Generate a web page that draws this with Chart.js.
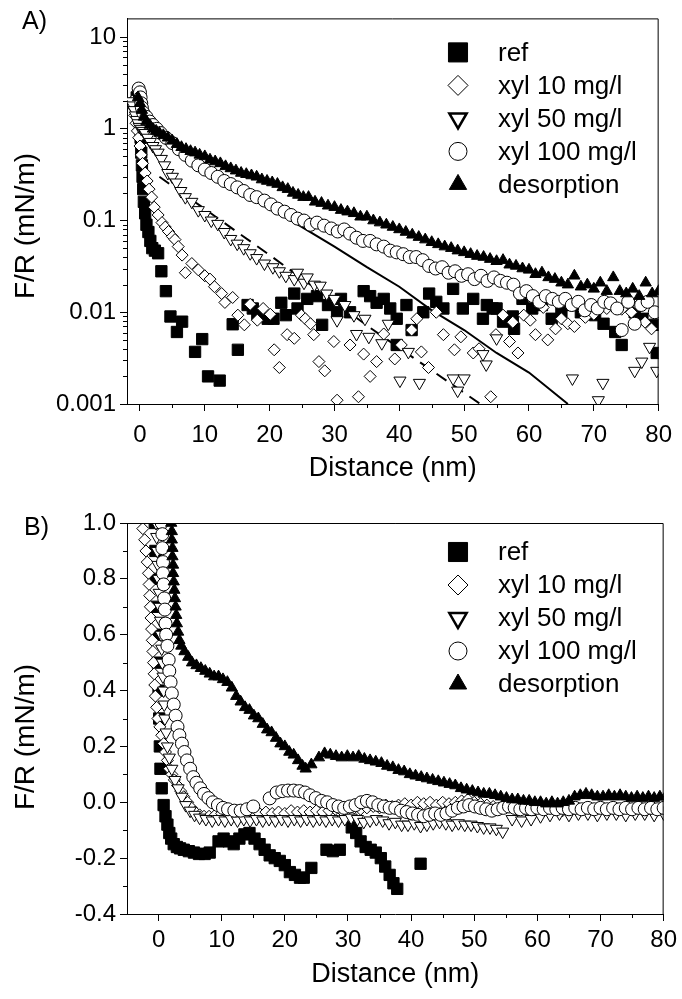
<!DOCTYPE html>
<html>
<head>
<meta charset="utf-8">
<script src="https://cdn.jsdelivr.net/npm/chart.js@4.4.0/dist/chart.umd.min.js"></script>
<style>
  body { margin: 0; background: #fff; }
  #wrap { position: relative; width: 682px; height: 999px; }
  canvas { position: absolute; left: 0; }
  #top-chart { top: 0; }
  #bottom-chart { top: 495px; }
  .panel { position: absolute; font: 25px "Liberation Sans", Arial, sans-serif; color: #000; }
</style>
</head>
<body>
<div id="wrap">
  <canvas id="top-chart" width="682" height="495"></canvas>
  <canvas id="bottom-chart" width="682" height="504"></canvas>
  <div class="panel" style="left:22px; top:6px;">A)</div>
  <div class="panel" style="left:24px; top:512px;">B)</div>
</div>
<script>
const seriesNames = ['ref', 'xyl 10 mg/l', 'xyl 50 mg/l', 'xyl 100 mg/l', 'desorption'];

// panel A (log scale), [distance nm, F/R mN/m]
const refA = [[-0.5,2.2],[-0.3,1.6],[0,1.2],[0.1,0.8],[0.2,0.55],[0.3,0.4],[0.4,0.3],[0.5,0.22],[0.6,0.16],[0.8,0.12],[1.0,0.09],[1.3,0.075],[1.6,0.06],[1.9,0.05],[2.3,0.047],[2.8,0.044],[3.3,0.028],[4.0,0.017],[4.7,0.009],[5.7,0.0061],[6.5,0.0079],[8.5,0.0037],[9.6,0.0051],[10.5,0.002],[12.3,0.0018],[14.3,0.0074],[15.1,0.0039],[16.6,0.012],[17.4,0.011],[18.1,0.0095],[19.7,0.0085],[20.6,0.0085],[21.8,0.0127],[22.5,0.0093],[23.8,0.016],[24.3,0.011],[25.8,0.014],[27.3,0.015],[28.1,0.0073],[29,0.012],[30.4,0.01],[31,0.014],[32.4,0.01],[34.5,0.017],[35.5,0.015],[36.5,0.0127],[37.6,0.014],[38.6,0.011],[39.6,0.0085],[39.6,0.0044],[41.1,0.012],[41.9,0.0064],[43.7,0.01],[44.6,0.016],[45.7,0.013],[46.8,0.011],[48.3,0.018],[49.8,0.011],[51.4,0.014],[52.9,0.0085],[53.5,0.012],[54.4,0.011],[55,0.011],[56,0.0079],[57.5,0.009],[57.7,0.0066],[59,0.014],[60.5,0.011],[62,0.012],[63.5,0.0085],[65,0.01],[66.5,0.012],[68,0.01],[70.2,0.0093],[71.5,0.0075],[73.3,0.0061],[74.3,0.0044],[76.3,0.01],[77.5,0.0085],[79.4,0.0073],[79.7,0.0036]];
const xyl10A = [[-1.2,2.0],[-1.0,1.7],[-0.8,1.4],[-0.6,1.15],[-0.4,0.95],[-0.2,0.8],[0,0.65],[0.2,0.52],[0.4,0.42],[0.8,0.33],[1.1,0.27],[1.4,0.22],[1.8,0.18],[2.2,0.14],[2.8,0.115],[3.4,0.095],[3.9,0.085],[4.4,0.076],[5,0.067],[5.4,0.062],[5.9,0.052],[6.5,0.042],[7.0,0.027],[8,0.034],[9,0.029],[10,0.025],[10.8,0.023],[11.5,0.019],[12.6,0.016],[13.1,0.0128],[14.3,0.0145],[15.1,0.0093],[16.1,0.0073],[17,0.0122],[18.1,0.0082],[19,0.011],[20.1,0.0095],[20.7,0.0039],[21.5,0.0025],[22.7,0.0057],[23.8,0.0052],[24.9,0.0093],[25.5,0.0085],[26.3,0.0075],[26.8,0.0057],[27.6,0.0029],[28.5,0.0023],[29.9,0.0048],[30.4,0.0011],[32.4,0.0044],[33.7,0.0012],[34.5,0.0035],[35.5,0.002],[36.5,0.0029],[37.6,0.0058],[39.3,0.0031],[40.3,0.0044],[41.9,0.0064],[42.7,0.0085],[43.4,0.0037],[44.5,0.0025],[45.7,0.01],[46.8,0.0057],[48.5,0.0039],[49.5,0.0054],[51.4,0.0036],[52.3,0.004],[54.1,0.0012],[54.9,0.0057],[56,0.0093],[57,0.0048],[57.5,0.0078],[58.3,0.0036],[59.2,0.0093],[60.2,0.0082],[61,0.0057],[62.2,0.0113],[62.9,0.005],[64.1,0.0066],[65,0.0085],[66,0.0075],[67,0.007],[68.7,0.0088],[70,0.0095],[72,0.011],[74.3,0.0108],[75.8,0.01],[76.8,0.0119],[77.9,0.0078],[78.9,0.0066]];
const xyl50A = [[-1.3,2.0],[-1.1,1.8],[-0.9,1.6],[-0.7,1.4],[-0.5,1.25],[-0.3,1.15],[-0.1,1.05],[0.2,1.0],[0.5,0.95],[0.8,0.9],[1.2,0.8],[1.6,0.72],[2.0,0.65],[2.4,0.6],[2.8,0.55],[3.3,0.47],[3.8,0.4],[4.3,0.33],[5,0.3],[5.6,0.26],[6.3,0.21],[7,0.18],[8,0.16],[9,0.13],[10,0.115],[11,0.1],[12,0.092],[13,0.075],[14,0.063],[15,0.056],[16,0.05],[17,0.044],[18,0.039],[19.2,0.034],[20.5,0.031],[21.5,0.028],[22.5,0.025],[23.8,0.023],[24.3,0.027],[25.3,0.021],[25.8,0.024],[26.9,0.02],[27.8,0.0195],[28.8,0.016],[30,0.014],[30.4,0.0082],[31.6,0.012],[33,0.0093],[33.4,0.0058],[34.7,0.0085],[35.3,0.0054],[37.3,0.0046],[38.3,0.0075],[40.1,0.0018],[41.4,0.0037],[43.1,0.0017],[48.3,0.0019],[49,0.0014],[50,0.0019],[52.9,0.0035],[53.4,0.0027],[55,0.0052],[66.7,0.0019],[70.7,0.0011],[71.4,0.0017],[76.3,0.0023],[77.4,0.0029],[78.6,0.0042],[79.7,0.0023]];
const xyl100A = [[-0.2,2.75],[0,2.5],[0.1,2.2],[0.2,1.9],[0.3,1.7],[0.5,1.5],[1,1.35],[1.5,1.2],[2,1.1],[2.6,1.0],[3.2,0.9],[4,0.8],[5,0.7],[6,0.6],[7,0.52],[8,0.45],[9,0.4],[10,0.36],[11,0.33],[12,0.3],[13,0.27],[14,0.25],[15,0.23],[16,0.21],[17,0.19],[18,0.18],[19.2,0.165],[20.2,0.15],[21.2,0.135],[22.3,0.125],[23.3,0.115],[24.3,0.105],[25.3,0.1],[26.3,0.09],[27.3,0.095],[28.4,0.088],[29.5,0.082],[30.5,0.076],[31.5,0.08],[32.4,0.072],[33.4,0.065],[34.4,0.06],[35.5,0.06],[36.5,0.055],[37.6,0.052],[38.6,0.047],[39.6,0.045],[40.6,0.043],[41.6,0.04],[42.6,0.04],[43.6,0.037],[44.6,0.032],[45.6,0.03],[46.6,0.031],[47.6,0.027],[48.6,0.028],[49.6,0.025],[50.6,0.026],[51.6,0.023],[52.6,0.025],[53.6,0.022],[54.6,0.024],[55.6,0.022],[56.6,0.021],[57.6,0.02],[58.6,0.016],[59.6,0.017],[60.6,0.015],[61.6,0.013],[62.6,0.015],[63.6,0.014],[64.6,0.013],[65.6,0.014],[66.6,0.012],[67.6,0.013],[68.6,0.0105],[69.6,0.012],[70.6,0.011],[71.6,0.013],[72.6,0.0125],[73.6,0.011],[74.3,0.0064],[75.3,0.013],[76.3,0.0075],[77.3,0.012],[78.3,0.013],[79.4,0.01]];
const desorpA = [[-0.3,2.2],[0,1.9],[0.3,1.6],[0.6,1.35],[1,1.2],[1.5,1.1],[2,1.0],[2.5,0.95],[3,0.9],[3.6,0.85],[4.3,0.8],[5,0.74],[5.7,0.68],[6.4,0.63],[7.1,0.6],[7.8,0.57],[8.5,0.55],[9.2,0.52],[10,0.5],[10.8,0.46],[11.6,0.44],[12.4,0.42],[13.2,0.39],[14,0.37],[14.8,0.35],[15.6,0.33],[16.4,0.32],[17.2,0.31],[18,0.3],[18.8,0.28],[19.6,0.27],[20.4,0.26],[21.2,0.25],[22,0.23],[22.8,0.22],[23.6,0.2],[24.4,0.19],[25.2,0.18],[26,0.18],[27,0.16],[28,0.155],[29,0.145],[30,0.14],[31,0.13],[32,0.125],[33,0.12],[34,0.11],[35,0.11],[36,0.1],[37,0.095],[38,0.09],[39,0.085],[40,0.08],[41,0.075],[42,0.07],[43,0.066],[44,0.062],[45,0.058],[46,0.055],[47,0.052],[48,0.05],[49,0.047],[50,0.045],[51,0.043],[52,0.041],[53,0.04],[54,0.038],[55,0.036],[56,0.037],[57,0.033],[58,0.032],[59,0.03],[60,0.029],[61,0.026],[62,0.027],[63,0.024],[64,0.023],[65,0.021],[66,0.02],[67,0.025],[68,0.019],[69,0.02],[70,0.018],[71,0.021],[72,0.017],[73,0.024],[74,0.017],[75,0.016],[76,0.018],[77,0.015],[78,0.021],[79,0.016],[80,0.017]];
const fitSolidA = [[0,1.3],[4,0.68],[10,0.4],[15,0.25],[20,0.14],[25,0.085],[30,0.052],[35,0.031],[40,0.019],[45,0.0105],[50,0.0064],[55,0.0036],[60,0.0022],[66,0.001]];
const fitDashA = [[3,0.3],[20,0.042],[36,0.0064],[52.5,0.001]];

// panel B (linear scale)
const refB = [[-0.6,1.0],[-0.5,0.9],[-0.4,0.8],[-0.3,0.7],[-0.2,0.6],[-0.1,0.5],[0,0.4],[0.1,0.3],[0.2,0.2],[0.3,0.12],[0.5,0.05],[0.8,-0.01],[1.1,-0.05],[1.4,-0.08],[1.7,-0.11],[2.0,-0.13],[2.4,-0.15],[2.9,-0.16],[3.4,-0.165],[4,-0.17],[4.8,-0.175],[5.6,-0.18],[6.4,-0.185],[7.3,-0.185],[8.1,-0.18],[9.5,-0.14],[10.3,-0.13],[11.1,-0.14],[11.9,-0.15],[12.8,-0.13],[13.6,-0.115],[14.4,-0.11],[15.2,-0.13],[16,-0.15],[16.8,-0.17],[17.6,-0.19],[18.4,-0.2],[19.2,-0.21],[20,-0.225],[20.8,-0.25],[21.6,-0.26],[22.4,-0.27],[23,-0.27],[24.2,-0.235],[26.6,-0.17],[27.6,-0.175],[28.7,-0.17],[30.6,-0.09],[31.3,-0.11],[32,-0.14],[32.8,-0.16],[33.6,-0.17],[34.4,-0.18],[35.2,-0.2],[35.9,-0.23],[36.6,-0.26],[37.2,-0.29],[37.8,-0.31],[41.5,-0.22]];
const xyl10B = [[-2.5,0.98],[-2.2,0.94],[-2,0.9],[-1.8,0.86],[-1.6,0.82],[-1.5,0.78],[-1.4,0.74],[-1.3,0.7],[-1.2,0.66],[-1.1,0.62],[-1.0,0.58],[-0.9,0.54],[-0.8,0.5],[-0.7,0.46],[-0.6,0.42],[-0.5,0.38],[-0.3,0.34],[-0.1,0.3],[0.2,0.27],[0.5,0.24],[0.8,0.21],[1.1,0.18],[1.4,0.15],[1.7,0.12],[2.1,0.1],[2.5,0.08],[3,0.06],[3.5,0.04],[4,0.02],[4.6,0.0],[5.2,-0.02],[5.8,-0.035],[6.5,-0.045],[7.2,-0.05],[8,-0.05],[9,-0.045],[10,-0.04],[11,-0.045],[12,-0.04],[13,-0.045],[14,-0.04],[15,-0.035],[16,-0.04],[17,-0.035],[18,-0.04],[19,-0.035],[20,-0.04],[21,-0.03],[22,-0.035],[23,-0.03],[24,-0.035],[25,-0.03],[26,-0.035],[27,-0.03],[28,-0.025],[29,-0.03],[30,-0.025],[31,-0.02],[32,-0.025],[33,-0.02],[34,-0.015],[35,-0.02],[36,-0.01],[37,-0.015],[38,-0.01],[39,-0.005],[40,-0.01],[41,0],[42,-0.005],[43,0.0],[44,-0.01],[45,0],[46,-0.005],[47,0],[48,0.005],[49,0.01],[50,0],[51,-0.005],[52,-0.01],[53,-0.015],[54,-0.02],[55,-0.01],[56,-0.015],[57,-0.02],[58,-0.02],[59,-0.015],[60,-0.02],[61,-0.02],[62,-0.02],[63,-0.025],[64,-0.03]];
const xyl50B = [[-0.4,1.0],[-0.3,0.95],[-0.2,0.9],[-0.1,0.85],[0,0.8],[0.1,0.75],[0.2,0.7],[0.3,0.65],[0.4,0.6],[0.5,0.55],[0.6,0.5],[0.7,0.45],[0.8,0.4],[0.9,0.35],[1.0,0.3],[1.2,0.25],[1.4,0.2],[1.7,0.16],[2.1,0.12],[2.6,0.08],[3.1,0.05],[3.7,0.02],[4.3,-0.01],[5,-0.03],[5.7,-0.045],[6.5,-0.055],[7.5,-0.06],[8.5,-0.065],[9.5,-0.06],[10.5,-0.065],[11.5,-0.06],[12.5,-0.065],[13.5,-0.06],[14.5,-0.065],[15.5,-0.06],[16.5,-0.065],[17.5,-0.06],[18.5,-0.065],[19.5,-0.06],[20.5,-0.065],[21.5,-0.06],[22.5,-0.065],[23.5,-0.06],[24.5,-0.065],[25.5,-0.06],[26.5,-0.065],[27.5,-0.06],[28.5,-0.065],[29.5,-0.06],[30.5,-0.055],[31.5,-0.06],[32.5,-0.07],[33.5,-0.065],[34.5,-0.06],[35.5,-0.065],[36.5,-0.075],[37.5,-0.07],[38.5,-0.08],[39.5,-0.08],[40.5,-0.075],[41.5,-0.085],[42.5,-0.08],[43.5,-0.075],[44.5,-0.07],[45.5,-0.075],[46.5,-0.08],[47.5,-0.075],[48.5,-0.08],[49.5,-0.08],[50.5,-0.085],[51.5,-0.09],[52.5,-0.09],[53.5,-0.095],[54.5,-0.105],[56,-0.06],[57.5,-0.065],[59,-0.06],[60.5,-0.05],[62,-0.045],[63.5,-0.04],[65,-0.045],[66.5,-0.04],[68,-0.04],[69.5,-0.045],[71,-0.04],[72.5,-0.04],[74,-0.045],[75.5,-0.04],[77,-0.04],[78.5,-0.045],[80,-0.04]];
const xyl100B = [[0.5,1.0],[0.6,0.96],[0.6,0.91],[0.7,0.86],[0.7,0.82],[0.8,0.78],[0.9,0.73],[1.0,0.69],[1.1,0.64],[1.2,0.6],[1.4,0.56],[1.6,0.51],[1.7,0.47],[1.9,0.43],[2.1,0.39],[2.4,0.35],[2.7,0.31],[3.0,0.27],[3.3,0.24],[3.7,0.21],[4.1,0.18],[4.5,0.15],[5,0.12],[5.5,0.09],[6,0.07],[6.6,0.05],[7.2,0.03],[7.9,0.015],[8.6,0.0],[9.4,-0.01],[10.2,-0.02],[11,-0.025],[12,-0.03],[13,-0.03],[14,-0.025],[15,-0.015],[17.6,0.014],[18.7,0.035],[19.6,0.04],[20.5,0.042],[21.4,0.042],[22.3,0.04],[23.2,0.035],[24,0.025],[24.9,0.015],[25.8,0.005],[26.7,0],[27.6,-0.01],[28.5,-0.015],[29.4,-0.02],[30.3,-0.015],[31.2,-0.01],[32.1,0],[33,0.005],[33.9,0],[34.8,-0.01],[35.7,-0.015],[36.6,-0.02],[37.5,-0.02],[38.4,-0.03],[39.3,-0.035],[40.2,-0.04],[41.1,-0.045],[42,-0.05],[42.9,-0.045],[43.8,-0.04],[44.7,-0.045],[45.6,-0.04],[46.5,-0.03],[47.4,-0.02],[48.3,-0.015],[49.2,-0.01],[50.1,-0.015],[51,-0.02],[51.9,-0.025],[52.8,-0.03],[53.7,-0.025],[54.6,-0.02],[55.5,-0.015],[56.4,-0.02],[57.3,-0.025],[58.2,-0.02],[59.1,-0.025],[60,-0.02],[61,-0.025],[62,-0.02],[63,-0.025],[64,-0.02],[65,-0.025],[66,-0.02],[67,-0.025],[68,-0.02],[69,-0.025],[70,-0.02],[71,-0.025],[72,-0.02],[73,-0.025],[74,-0.02],[75,-0.025],[76,-0.02],[77,-0.025],[78,-0.02],[79,-0.025],[80,-0.02]];
const desorpB = [[2.0,1.0],[2.1,0.97],[2.1,0.94],[2.2,0.91],[2.2,0.88],[2.3,0.85],[2.3,0.82],[2.4,0.79],[2.5,0.76],[2.6,0.73],[2.7,0.7],[2.8,0.67],[2.9,0.64],[3.1,0.61],[3.3,0.58],[3.6,0.56],[4.1,0.54],[4.7,0.52],[5.3,0.5],[6,0.49],[6.7,0.48],[7.4,0.47],[8.1,0.46],[8.8,0.45],[9.5,0.45],[10.2,0.44],[10.9,0.43],[11.6,0.41],[12.3,0.38],[13,0.36],[13.7,0.34],[14.4,0.33],[15.1,0.31],[15.8,0.3],[16.5,0.28],[17.2,0.26],[17.9,0.25],[18.6,0.23],[19.3,0.21],[20,0.2],[20.7,0.18],[21.4,0.17],[22.1,0.15],[22.8,0.13],[23.3,0.12],[24.2,0.135],[25.4,0.16],[26.3,0.175],[27.2,0.17],[28.1,0.165],[29,0.16],[29.9,0.165],[30.8,0.16],[31.7,0.165],[32.6,0.155],[33.5,0.15],[34.4,0.145],[35.3,0.14],[36.2,0.13],[37.1,0.125],[38,0.115],[38.9,0.11],[39.8,0.1],[40.7,0.095],[41.6,0.09],[42.5,0.085],[43.4,0.08],[44.3,0.075],[45.2,0.07],[46.1,0.065],[47,0.06],[47.9,0.05],[48.8,0.045],[49.7,0.04],[50.6,0.035],[51.5,0.03],[52.4,0.03],[53.3,0.025],[54.2,0.02],[55.1,0.015],[56,0.01],[56.9,0.01],[57.8,0.005],[58.7,0.005],[59.6,0.0],[60.5,0.0],[61.4,-0.005],[62.3,0.0],[63.2,-0.005],[64.1,0.0],[65,0.005],[65.9,0.02],[66.8,0.025],[67.7,0.03],[68.6,0.025],[69.5,0.02],[70.4,0.02],[71.3,0.025],[72.2,0.02],[73.1,0.025],[74,0.02],[74.9,0.015],[75.8,0.02],[76.7,0.015],[77.6,0.02],[78.5,0.015],[79.4,0.02],[80.3,0.02]];

const xTicks = [0, 10, 20, 30, 40, 50, 60, 70, 80];
const xMinor = [5, 15, 25, 35, 45, 55, 65, 75];
const yTicksA = [0.001, 0.01, 0.1, 1, 10];
const yTicksB = [-0.4, -0.2, 0, 0.2, 0.4, 0.6, 0.8, 1.0];
const yMinorB = [-0.3, -0.1, 0.1, 0.3, 0.5, 0.7, 0.9];

const FONT = '"Liberation Sans", Arial, sans-serif';

// marker looks: ref, xyl10, xyl50, xyl100, desorption
const markers = [
    { style: 'rect', fill: '#000', r: 8, rot: 0, lr: 13.5 },
    { style: 'rectRot', fill: '#fff', r: 6, rot: 0, lr: 10 },
    { style: 'triangle', fill: '#fff', r: 7, rot: 180, lr: 10 },
    { style: 'circle', fill: '#fff', r: 6.5, rot: 0, lr: 9 },
    { style: 'triangle', fill: '#000', r: 6.5, rot: 0, lr: 10 }
];

function toPts(arr) {
    return arr.map(p => ({ x: p[0], y: p[1] }));
}

function scatterSets(list) {
    return list.map((arr, i) => ({
        type: 'scatter',
        label: seriesNames[i],
        data: toPts(arr),
        pointStyle: markers[i].style,
        pointRadius: markers[i].r,
        pointRotation: markers[i].rot,
        pointBackgroundColor: markers[i].fill,
        pointBorderColor: '#000',
        pointBorderWidth: 1,
        order: 5 - i
    }));
}

const minorTicks = {
    id: 'minorTicks',
    afterDraw(chart, args, opts) {
        const ctx = chart.ctx;
        const xs = chart.scales.x, ys = chart.scales.y;
        ctx.save();
        ctx.strokeStyle = '#000';
        ctx.lineWidth = 1;
        (opts.x || []).forEach(v => {
            const px = Math.round(xs.getPixelForValue(v)) + 0.5;
            ctx.beginPath(); ctx.moveTo(px, xs.top); ctx.lineTo(px, xs.top + 4); ctx.stroke();
        });
        (opts.y || []).forEach(v => {
            const py = Math.round(ys.getPixelForValue(v)) + 0.5;
            ctx.beginPath(); ctx.moveTo(ys.right, py); ctx.lineTo(ys.right - 4, py); ctx.stroke();
        });
        ctx.restore();
    }
};

const frame = {
    id: 'frame',
    afterDraw(chart) {
        const a = chart.chartArea, ctx = chart.ctx;
        ctx.save();
        ctx.strokeStyle = '#000';
        ctx.lineWidth = 1;
        ctx.beginPath();
        ctx.moveTo(a.left, a.top + 0.5);
        ctx.lineTo(a.right - 0.5, a.top + 0.5);
        ctx.lineTo(a.right - 0.5, a.bottom);
        ctx.stroke();
        ctx.restore();
    }
};

const insideLegend = {
    id: 'insideLegend',
    afterDraw(chart, args, opts) {
        const ctx = chart.ctx;
        const top = chart.chartArea.top + opts.offsetY;
        seriesNames.forEach((name, i) => {
            const y = top + i * 33;
            const m = markers[i];
            ctx.save();
            ctx.fillStyle = m.fill;
            ctx.strokeStyle = '#000';
            ctx.lineWidth = i === 2 ? 2.5 : 1;
            Chart.helpers.drawPoint(ctx, { pointStyle: m.style, radius: m.lr, rotation: m.rot, borderWidth: ctx.lineWidth }, 458, y);
            ctx.fillStyle = '#000';
            ctx.font = '26px ' + FONT;
            ctx.textBaseline = 'middle';
            ctx.fillText(name, 498, y + 1);
            ctx.restore();
        });
    }
};

const yTitle = {
    id: 'yTitle',
    afterDraw(chart, args, opts) {
        const ctx = chart.ctx;
        ctx.save();
        ctx.translate(opts.x, opts.y);
        ctx.rotate(-Math.PI / 2);
        ctx.font = '28px ' + FONT;
        ctx.fillStyle = '#000';
        ctx.textAlign = 'center';
        ctx.textBaseline = 'middle';
        ctx.fillText(opts.text, 0, 0);
        ctx.restore();
    }
};

function xAxis(min, height, pad) {
    return {
        type: 'linear',
        min: min,
        max: 80,
        afterBuildTicks: s => { s.ticks = xTicks.map(v => ({ value: v })); },
        afterFit: s => { s.height = height; },
        grid: { drawOnChartArea: false, color: '#000', tickLength: 7 },
        border: { color: '#000', width: 1 },
        ticks: { color: '#000', font: { family: FONT, size: 24 }, padding: pad, maxRotation: 0 },
        title: { display: true, text: 'Distance (nm)', color: '#000', font: { family: FONT, size: 27 }, padding: 0 }
    };
}

function baseOptions() {
    return {
        responsive: false,
        animation: false,
        events: [],
        plugins: { legend: { display: false }, tooltip: { enabled: false } }
    };
}

// panel A
const logMinor = [];
[0.001, 0.01, 0.1, 1].forEach(d => { for (let k = 2; k <= 9; k++) logMinor.push(d * k); });

const optsA = baseOptions();
optsA.layout = { padding: { top: 11, right: 18, left: 12, bottom: 10 } };
optsA.scales = {
    x: xAxis(-2, 81, 10),
    y: {
        type: 'logarithmic',
        min: 0.001,
        max: 16,
        afterBuildTicks: s => { s.ticks = yTicksA.map(v => ({ value: v })); },
        afterFit: s => { s.width = 115; },
        grid: { drawOnChartArea: false, color: '#000', tickLength: 7 },
        border: { color: '#000', width: 1 },
        ticks: { color: '#000', font: { family: FONT, size: 24 }, padding: 4, callback: v => String(v) }
    }
};
optsA.plugins.minorTicks = { x: xMinor, y: logMinor };
optsA.plugins.insideLegend = { offsetY: 34 };
optsA.plugins.yTitle = { text: 'F/R (mN/m)', x: 26, y: 226 };

new Chart(document.querySelector('#top-chart').getContext('2d'), {
    data: {
        datasets: scatterSets([refA, xyl10A, xyl50A, xyl100A, desorpA]).concat([
            { type: 'line', data: toPts(fitSolidA), borderColor: '#000', borderWidth: 2, pointRadius: 0, order: 10 },
            { type: 'line', data: toPts(fitDashA), borderColor: '#000', borderWidth: 2, borderDash: [12, 8], pointRadius: 0, order: 10 }
        ])
    },
    options: optsA,
    plugins: [minorTicks, frame, insideLegend, yTitle]
});

// panel B
const optsB = baseOptions();
optsB.layout = { padding: { top: 28, right: 18, left: 12, bottom: 8 } };
optsB.scales = {
    x: xAxis(-5, 77, 5),
    y: {
        type: 'linear',
        min: -0.4,
        max: 1.0,
        afterBuildTicks: s => { s.ticks = yTicksB.map(v => ({ value: v })); },
        afterFit: s => { s.width = 115; },
        grid: { drawOnChartArea: false, color: '#000', tickLength: 7 },
        border: { color: '#000', width: 1 },
        ticks: { color: '#000', font: { family: FONT, size: 24 }, padding: 4, callback: v => v.toFixed(1) }
    }
};
optsB.plugins.minorTicks = { x: xMinor, y: yMinorB };
optsB.plugins.insideLegend = { offsetY: 29 };
optsB.plugins.yTitle = { text: 'F/R (mN/m)', x: 26, y: 242 };

new Chart(document.querySelector('#bottom-chart').getContext('2d'), {
    data: {
        datasets: scatterSets([refB, xyl10B, xyl50B, xyl100B, desorpB])
    },
    options: optsB,
    plugins: [minorTicks, frame, insideLegend, yTitle]
});
</script>
</body>
</html>
